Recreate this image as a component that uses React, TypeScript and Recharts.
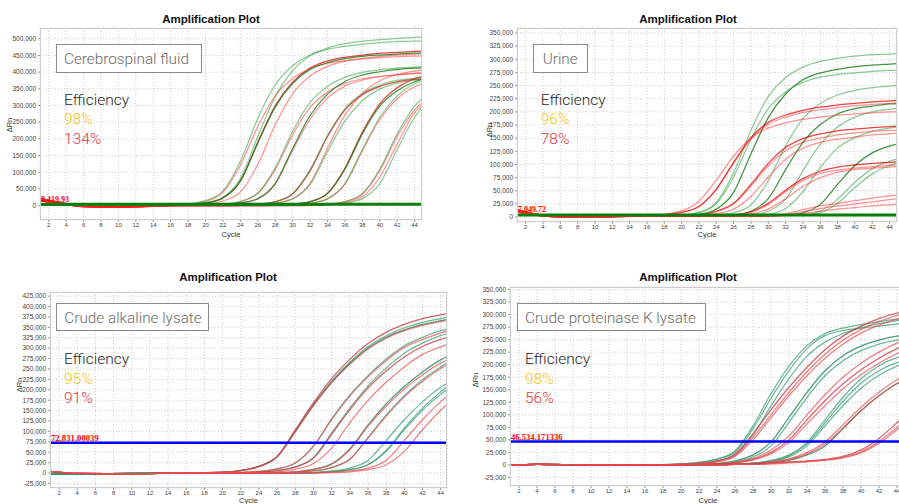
import React from 'react';
import { LineChart, Line, XAxis, YAxis, CartesianGrid, ReferenceLine } from 'recharts';

const csfCycles = [1, 3, 6, 10, 16, 20, 22, 24, 26, 28, 30, 32, 34, 36, 38, 40, 42, 44, 45];
const csfGreen = [
  [3, 2, 1, 1, 1, 9, 25, 81, 207, 326, 404, 449, 472, 485, 492, 497, 501, 504, 505],
  [3, 2, 1, 1, 1, 15, 44, 133, 261, 362, 419, 451, 468, 477, 483, 488, 491, 493, 493],
  [3, 2, 1, 1, 1, 8, 23, 73, 188, 295, 366, 408, 428, 440, 447, 451, 454, 457, 458],
  [3, 2, 1, 1, 1, 1, 4, 13, 38, 113, 223, 309, 357, 384, 399, 407, 412, 415, 417],
  [3, 2, 1, 1, 1, 1, 2, 8, 21, 67, 171, 270, 334, 372, 391, 401, 408, 412, 413],
  [3, 2, 1, 1, 1, 1, 1, 1, 4, 12, 36, 107, 209, 290, 336, 361, 375, 382, 385],
  [3, 2, 1, 1, 1, 1, 1, 1, 2, 7, 20, 63, 161, 253, 314, 349, 367, 376, 379],
  [3, 2, 1, 1, 1, 1, 1, 1, 1, 1, 4, 12, 36, 109, 215, 298, 344, 371, 379],
  [3, 2, 1, 1, 1, 1, 1, 1, 1, 1, 2, 7, 21, 66, 168, 264, 328, 365, 375],
  [3, 2, 1, 1, 1, 1, 1, 1, 1, 1, 1, 1, 4, 12, 36, 109, 215, 298, 324],
  [3, 2, 1, 1, 1, 1, 1, 1, 1, 1, 1, 1, 2, 7, 21, 66, 168, 264, 301],
];
const csfRed = [
  [16, 7, -3, -4, 0, 8, 23, 74, 190, 299, 370, 412, 433, 444, 451, 456, 459, 462, 463],
  [22, 11, -2, -5, 0, 5, 14, 41, 123, 242, 335, 388, 417, 433, 441, 447, 451, 454, 455],
  [16, 7, -3, -4, 0, 13, 40, 121, 237, 329, 381, 410, 426, 434, 439, 443, 446, 448, 448],
  [22, 11, -2, -5, 0, 1, 4, 12, 36, 108, 212, 294, 340, 366, 380, 387, 392, 396, 397],
  [16, 7, -3, -4, 0, 1, 2, 7, 20, 64, 165, 259, 322, 358, 376, 386, 392, 396, 398],
  [22, 11, -2, -5, 0, 0, 0, 1, 4, 12, 35, 105, 207, 287, 332, 357, 371, 378, 380],
  [16, 7, -3, -4, 0, 0, 0, 1, 2, 8, 21, 67, 172, 271, 336, 374, 393, 403, 407],
  [22, 11, -2, -5, 0, 0, 0, 0, 0, 1, 2, 7, 20, 64, 164, 258, 320, 356, 366],
  [16, 7, -3, -4, 0, 0, 0, 0, 0, 1, 4, 12, 37, 112, 220, 305, 353, 380, 388],
  [22, 11, -2, -5, 0, 0, 0, 0, 0, 0, 0, 1, 4, 12, 35, 105, 207, 287, 312],
  [16, 7, -3, -4, 0, 0, 0, 0, 0, 0, 0, 1, 3, 9, 27, 85, 185, 278, 305],
];

const urineCycles = [1, 3, 6, 10, 16, 20, 22, 24, 26, 28, 30, 32, 34, 36, 38, 40, 42, 44, 45];
const urineGreen = [
  [3, 3, 3, 3, 3, 4, 9, 28, 84, 165, 229, 265, 285, 296, 302, 306, 309, 310, 311],
  [3, 3, 3, 3, 3, 3, 5, 15, 47, 120, 189, 234, 261, 274, 281, 286, 289, 291, 292],
  [3, 3, 3, 3, 3, 4, 8, 25, 76, 148, 206, 238, 256, 266, 271, 274, 277, 279, 279],
  [3, 3, 3, 3, 3, 3, 3, 3, 8, 23, 69, 135, 187, 216, 232, 241, 246, 249, 250],
  [3, 3, 3, 3, 3, 3, 3, 3, 4, 11, 35, 90, 142, 176, 196, 206, 211, 215, 216],
  [3, 3, 3, 3, 3, 3, 3, 3, 3, 4, 11, 34, 88, 138, 171, 190, 200, 205, 207],
  [3, 3, 3, 3, 3, 3, 3, 3, 3, 3, 5, 16, 48, 94, 131, 151, 163, 169, 171],
  [3, 3, 3, 3, 3, 3, 3, 3, 3, 3, 3, 3, 8, 24, 62, 98, 122, 135, 139],
  [3, 3, 3, 3, 3, 3, 3, 3, 3, 3, 3, 3, 4, 11, 34, 66, 92, 106, 111],
  [3, 3, 3, 3, 3, 3, 3, 3, 3, 3, 3, 3, 3, 8, 26, 56, 82, 98, 104],
];
const urineRed = [
  [14, 6, 1, 0, 2, 9, 20, 53, 104, 151, 180, 194, 203, 209, 213, 216, 219, 221, 222],
  [10, 4, 0, 0, 3, 9, 20, 52, 102, 148, 176, 190, 199, 204, 208, 212, 214, 216, 217],
  [14, 6, 1, 0, 2, 12, 30, 70, 116, 150, 169, 179, 186, 190, 194, 196, 198, 200, 200],
  [10, 4, 0, 0, 3, 2, 4, 11, 26, 62, 102, 132, 149, 158, 164, 167, 170, 172, 173],
  [14, 6, 1, 0, 2, 2, 4, 10, 25, 59, 97, 126, 142, 150, 156, 160, 163, 165, 165],
  [10, 4, 0, 0, 3, 1, 2, 6, 15, 39, 76, 110, 131, 142, 148, 152, 156, 158, 159],
  [14, 6, 1, 0, 2, 1, 1, 2, 4, 10, 26, 51, 73, 87, 95, 99, 102, 104, 105],
  [10, 4, 0, 0, 3, 1, 1, 2, 4, 9, 24, 48, 69, 83, 89, 93, 96, 98, 99],
  [14, 6, 1, 0, 2, 1, 1, 1, 3, 6, 15, 35, 58, 75, 85, 90, 93, 95, 96],
  [10, 4, 0, 0, 3, 1, 1, 1, 1, 1, 2, 6, 14, 21, 26, 31, 36, 40, 42],
  [14, 6, 1, 0, 2, 1, 1, 1, 1, 1, 1, 4, 10, 16, 21, 25, 29, 33, 35],
  [10, 4, 0, 0, 3, 1, 1, 1, 1, 1, 1, 3, 7, 11, 15, 18, 21, 23, 24],
];

const alkCycles = [1, 4, 10, 16, 20, 22, 24, 26, 28, 30, 32, 34, 36, 38, 40, 42, 44, 45];
const alkGreen = [
  [-2, -2, -1, 0, 2, 6, 16, 39, 101, 165, 221, 266, 304, 330, 349, 362, 371, 375],
  [-2, -2, -1, 0, 2, 6, 16, 39, 100, 163, 218, 263, 300, 326, 344, 357, 366, 370],
  [-2, -2, -1, 0, 0, 1, 4, 10, 24, 65, 130, 187, 234, 274, 306, 326, 342, 347],
  [-2, -2, -1, 0, 0, 1, 2, 6, 15, 37, 96, 156, 209, 252, 288, 312, 330, 337],
  [-2, -2, -1, 0, 0, 0, 0, 1, 3, 9, 22, 58, 115, 166, 208, 243, 272, 282],
  [-2, -2, -1, 0, 0, 0, 0, 0, 2, 5, 13, 33, 85, 139, 186, 224, 255, 268],
  [-2, -2, -1, 0, 0, 0, 0, 0, 0, 1, 5, 12, 30, 78, 128, 171, 206, 220],
  [-2, -2, -1, 0, 0, 0, 0, 0, 0, 1, 3, 8, 20, 54, 108, 156, 195, 213],
  [-2, -2, -1, 0, 0, 0, 0, 0, 0, 1, 3, 8, 20, 52, 104, 151, 189, 206],
];
const alkRed = [
  [4, -1, -2, 0, 2, 6, 16, 40, 104, 169, 227, 273, 311, 338, 357, 371, 380, 384],
  [4, -1, -2, 0, 2, 6, 15, 39, 99, 162, 217, 261, 298, 324, 342, 355, 364, 368],
  [4, -1, -2, 0, 0, 1, 4, 10, 24, 64, 128, 185, 231, 270, 302, 321, 337, 343],
  [4, -1, -2, 0, 0, 1, 2, 6, 14, 36, 93, 152, 204, 245, 279, 304, 321, 328],
  [4, -1, -2, 0, 0, 0, 1, 3, 9, 23, 60, 121, 174, 218, 255, 285, 303, 312],
  [4, -1, -2, 0, 0, 0, 0, 1, 3, 9, 21, 56, 112, 161, 202, 236, 264, 273],
  [4, -1, -2, 0, 0, 0, 0, 0, 2, 5, 13, 33, 84, 136, 183, 220, 251, 264],
  [4, -1, -2, 0, 0, 0, 0, 0, 0, 1, 2, 5, 12, 30, 78, 128, 171, 189],
  [4, -1, -2, 0, 0, 0, 0, 0, 0, 0, 1, 3, 8, 20, 52, 104, 151, 171],
];

const pkCycles = [1, 4, 10, 16, 20, 22, 24, 26, 28, 30, 32, 34, 36, 38, 40, 42, 44, 45];
const pkGreen = [
  [0, 1, 0, 0, 2, 5, 12, 28, 78, 142, 197, 238, 262, 273, 280, 286, 291, 293],
  [0, 1, 0, 0, 2, 5, 11, 26, 72, 133, 188, 232, 258, 268, 273, 277, 281, 283],
  [0, 1, 0, 0, 1, 3, 8, 20, 60, 118, 172, 217, 245, 262, 274, 282, 288, 290],
  [0, 1, 0, 0, 0, 1, 3, 8, 20, 46, 95, 145, 188, 218, 237, 249, 257, 259],
  [0, 1, 0, 0, 0, 1, 2, 6, 16, 38, 85, 135, 178, 208, 228, 241, 249, 252],
  [0, 1, 0, 0, 0, 0, 1, 2, 4, 9, 20, 45, 90, 135, 172, 198, 214, 219],
  [0, 1, 0, 0, 0, 0, 1, 2, 3, 8, 18, 42, 84, 127, 163, 188, 204, 209],
  [0, 1, 0, 0, 0, 0, 0, 1, 3, 7, 16, 38, 78, 118, 153, 179, 197, 203],
  [0, 1, 0, 0, 0, 0, 0, 1, 2, 4, 9, 20, 38, 72, 108, 138, 162, 170],
];
const pkRed = [
  [0, 1, 0, 0, 1, 3, 8, 22, 62, 110, 155, 195, 230, 257, 277, 292, 303, 306],
  [0, 1, 0, 0, 1, 3, 7, 19, 55, 100, 145, 186, 221, 249, 270, 286, 298, 301],
  [0, 1, 0, 0, 1, 2, 6, 17, 50, 94, 138, 178, 213, 241, 263, 279, 291, 295],
  [0, 1, 0, 0, 0, 1, 2, 5, 13, 30, 58, 100, 140, 175, 203, 225, 243, 250],
  [0, 1, 0, 0, 0, 1, 2, 4, 11, 25, 50, 90, 128, 162, 190, 213, 232, 240],
  [0, 1, 0, 0, 0, 1, 1, 4, 10, 22, 45, 82, 118, 152, 180, 203, 222, 230],
  [0, 1, 0, 0, 0, 0, 0, 1, 3, 6, 12, 25, 46, 80, 115, 145, 170, 178],
  [0, 1, 0, 0, 0, 0, 0, 1, 2, 5, 11, 22, 42, 74, 108, 138, 163, 172],
  [0, 1, 0, 0, 0, 0, 1, 1, 2, 4, 6, 8, 11, 17, 30, 53, 84, 100],
  [0, 1, 0, 0, 0, 0, 0, 1, 1, 3, 5, 7, 10, 15, 26, 47, 75, 90],
  [0, 1, 0, 0, 0, 0, 0, 1, 1, 2, 4, 6, 9, 14, 24, 43, 70, 84],
];

const cycleTicks = [2, 4, 6, 8, 10, 12, 14, 16, 18, 20, 22, 24, 26, 28, 30, 32, 34, 36, 38, 40, 42, 44];
const csfTicks = [0, 50000, 100000, 150000, 200000, 250000, 300000, 350000, 400000, 450000, 500000];
const urineTicks = [0, 25000, 50000, 75000, 100000, 125000, 150000, 175000, 200000, 225000, 250000, 275000, 300000, 325000, 350000];
const alkTicks = [-25000, 0, 25000, 50000, 75000, 100000, 125000, 150000, 175000, 200000, 225000, 250000, 275000, 300000, 325000, 350000, 375000, 400000, 425000];
const pkTicks = [-25000, 0, 25000, 50000, 75000, 100000, 125000, 150000, 175000, 200000, 225000, 250000, 275000, 300000, 325000, 350000];

const buildRows = (cycles: number[], green: number[][], red: number[][]) =>
  cycles.map((c, i) => {
    const row: Record<string, number> = { cycle: c };
    green.forEach((s, k) => { row[`g${k}`] = s[i] * 1000; });
    red.forEach((s, k) => { row[`r${k}`] = s[i] * 1000; });
    return row;
  });

const SANS = '"Liberation Sans", Arial, sans-serif';
const LIGHT = 'Roboto, "Open Sans", sans-serif';
const SERIF = '"Liberation Serif", "Times New Roman", serif';

const Plot = ({ p }: any) => {
  const rows = buildRows(p.cycles, p.green, p.red);
  const greens = p.green.map((_: any, k: number) => {
    const dark = p.darkGreen.includes(k);
    return { key: `g${k}`, color: dark ? p.pal.gd : p.pal.g, op: dark ? 0.8 : p.pal.go };
  });
  const reds = p.red.map((_: any, k: number) => {
    const dark = p.darkRed.includes(k);
    return { key: `r${k}`, color: dark ? p.pal.rd : p.pal.r, op: dark ? 0.75 : p.pal.ro };
  });
  const order = p.redOnTop ? [...greens, ...reds] : [...reds, ...greens];
  const plotLeft = p.left + p.yw;
  const plotTop = p.top + p.margin.top;
  const plotW = p.width - p.yw - p.margin.right;
  const plotH = p.height - p.margin.top - p.margin.bottom - 20;
  return (
    <>
      <div style={{ position: 'absolute', left: p.left, top: p.top }}>
        <LineChart width={p.width} height={p.height} data={rows} margin={{ ...p.margin, left: 0 }}>
          <CartesianGrid stroke="#cccccc" strokeDasharray="1 2" />
          <XAxis
            dataKey="cycle"
            type="number"
            domain={p.xDomain}
            ticks={cycleTicks}
            interval={0}
            allowDataOverflow
            axisLine={false}
            tickSize={2}
            tickMargin={1}
            height={20}
            tickLine={{ stroke: '#999' }}
            tick={{ fontSize: 6, fill: '#444', fontFamily: SANS }}
          />
          <YAxis
            type="number"
            domain={p.yDomain}
            ticks={p.yTicks}
            interval={0}
            allowDataOverflow
            axisLine={false}
            width={p.yw}
            tickSize={2}
            tickMargin={2}
            tickLine={{ stroke: '#999' }}
            tick={{ fontSize: 6.5, fill: '#444', fontFamily: SANS }}
            tickFormatter={(v: number) => v.toLocaleString('en-US')}
          />
          {order.map((s: any) => (
            <Line
              key={s.key}
              dataKey={s.key}
              type="monotone"
              stroke={s.color}
              strokeOpacity={s.op}
              strokeWidth={1.25}
              dot={false}
              activeDot={false}
              isAnimationActive={false}
            />
          ))}
          <ReferenceLine y={p.threshold} stroke={p.thColor} strokeWidth={p.thWidth} ifOverflow="hidden" />
        </LineChart>
      </div>
      <div style={{ position: 'absolute', left: plotLeft, top: plotTop, width: plotW, height: plotH, border: '1px solid #cdcdcd', boxSizing: 'border-box' }} />
      <div style={{ position: 'absolute', left: p.titleX - 70, width: 140, top: p.titleY - 7, textAlign: 'center', font: `bold 11.5px ${SANS}`, lineHeight: '14px', color: '#111' }}>Amplification Plot</div>
      <div style={{ position: 'absolute', left: plotLeft, width: plotW, top: p.cycleY - 5, textAlign: 'center', font: `7.5px ${SANS}`, lineHeight: '10px', color: '#333' }}>Cycle</div>
      <div style={{ position: 'absolute', left: p.rnX - 15, top: p.rnY - 5, width: 30, textAlign: 'center', font: `7.5px ${SANS}`, lineHeight: '10px', color: '#333', transform: 'rotate(-90deg)' }}>ΔRn</div>
      <div style={{ position: 'absolute', left: plotLeft + 1, top: p.thLabelY - 8, font: `bold ${p.thLabelSize}px ${SERIF}`, lineHeight: '10px', color: '#ff0000', whiteSpace: 'nowrap' }}>{p.thLabel}</div>
      <div style={{ position: 'absolute', left: p.box[0], top: p.box[1], width: p.box[2], height: p.box[3], border: '1.5px solid #8a8a8a', boxSizing: 'border-box', background: '#fff' }} />
      <div style={{ position: 'absolute', left: p.textX, top: p.boxCap - 2, font: `300 15.3px ${LIGHT}`, lineHeight: '16px', color: '#6a6a6a', whiteSpace: 'nowrap' }}>{p.name}</div>
      <div style={{ position: 'absolute', left: p.effX, top: p.effCap - 2, font: `300 15.5px ${LIGHT}`, lineHeight: '16px', color: '#262626' }}>Efficiency</div>
      <div style={{ position: 'absolute', left: p.effX, top: p.effCap + 17.3, font: `300 15.5px ${LIGHT}`, lineHeight: '16px', color: '#f2c21b' }}>{p.eff[0]}</div>
      <div style={{ position: 'absolute', left: p.effX, top: p.effCap + 36.7, font: `300 15.5px ${LIGHT}`, lineHeight: '16px', color: '#e5343c' }}>{p.eff[1]}</div>
    </>
  );
};

const palBright = { g: '#2f9e3e', go: 0.55, gd: '#137a13', r: '#ff2a2a', ro: 0.5, rd: '#e60000' };
const palTeal = { g: '#2f9b6c', go: 0.7, gd: '#1f8555', r: '#ea4a50', ro: 0.7, rd: '#c9303a' };

const panels = [
  {
    cycles: csfCycles, green: csfGreen, red: csfRed, darkGreen: [2, 4, 7], darkRed: [0, 5, 8], pal: palBright, redOnTop: false,
    left: 0, top: 0, width: 430, height: 250, margin: { top: 28, right: 8, bottom: 10 }, yw: 40,
    xDomain: [1, 44.85], yDomain: [-43000, 532000], yTicks: csfTicks,
    threshold: 4000, thColor: '#0b7d0b', thWidth: 3, thLabel: '8,419.93', thLabelSize: 8, thLabelY: 203,
    titleX: 211, titleY: 19, cycleY: 235, rnX: 10, rnY: 125,
    box: [56, 44, 146, 29], textX: 64, boxCap: 52.7, name: 'Cerebrospinal fluid',
    effX: 64, effCap: 94, eff: ['98%', '134%'],
  },
  {
    cycles: urineCycles, green: urineGreen, red: urineRed, darkGreen: [1, 4, 7], darkRed: [0, 3, 6], pal: palBright, redOnTop: true,
    left: 450, top: 0, width: 449, height: 250, margin: { top: 28, right: 2, bottom: 8 }, yw: 67,
    xDomain: [1, 44.86], yDomain: [-9500, 359500], yTicks: urineTicks,
    threshold: 3800, thColor: '#0b7d0b', thWidth: 3, thLabel: '7,049.72', thLabelSize: 8, thLabelY: 213,
    titleX: 688, titleY: 19, cycleY: 235, rnX: 490, rnY: 130,
    box: [533, 44, 55, 29], textX: 542.7, boxCap: 52.7, name: 'Urine',
    effX: 540.7, effCap: 94, eff: ['96%', '78%'],
  },
  {
    cycles: alkCycles, green: alkGreen, red: alkRed, darkGreen: [1, 4], darkRed: [0, 3], pal: palTeal, redOnTop: true,
    left: 0, top: 260, width: 450, height: 248, margin: { top: 32, right: 3, bottom: 0 }, yw: 50,
    xDomain: [1, 44.7], yDomain: [-36000, 435000], yTicks: alkTicks,
    threshold: 72831, thColor: '#0000ff', thWidth: 2.5, thLabel: '72,831.00039', thLabelSize: 8.7, thLabelY: 441,
    titleX: 228, titleY: 277, cycleY: 500.7, rnX: 20, rnY: 385,
    box: [56, 303, 153, 28], textX: 64.3, boxCap: 311.7, name: 'Crude alkaline lysate',
    effX: 64, effCap: 353.3, eff: ['95%', '91%'],
  },
  {
    cycles: pkCycles, green: pkGreen, red: pkRed, darkGreen: [3, 8], darkRed: [0, 4, 8], pal: palTeal, redOnTop: true,
    left: 450, top: 260, width: 460, height: 246, margin: { top: 27, right: 4, bottom: 0 }, yw: 60,
    xDomain: [1, 45], yDomain: [-42000, 355000], yTicks: pkTicks,
    threshold: 46534, thColor: '#0000ff', thWidth: 2.5, thLabel: '46,534.171336', thLabelSize: 8.6, thLabelY: 440,
    titleX: 688, titleY: 277, cycleY: 500.7, rnX: 476, rnY: 380,
    box: [517, 303, 189, 28], textX: 525, boxCap: 311.7, name: 'Crude proteinase K lysate',
    effX: 525, effCap: 353.3, eff: ['98%', '56%'],
  },
];

export default function App() {
  return (
    <div style={{ position: 'fixed', left: 0, top: 0, width: 899, height: 504, overflow: 'hidden', background: '#fff' }}>
      {panels.map((p, i) => <Plot key={i} p={p} />)}
    </div>
  );
}
